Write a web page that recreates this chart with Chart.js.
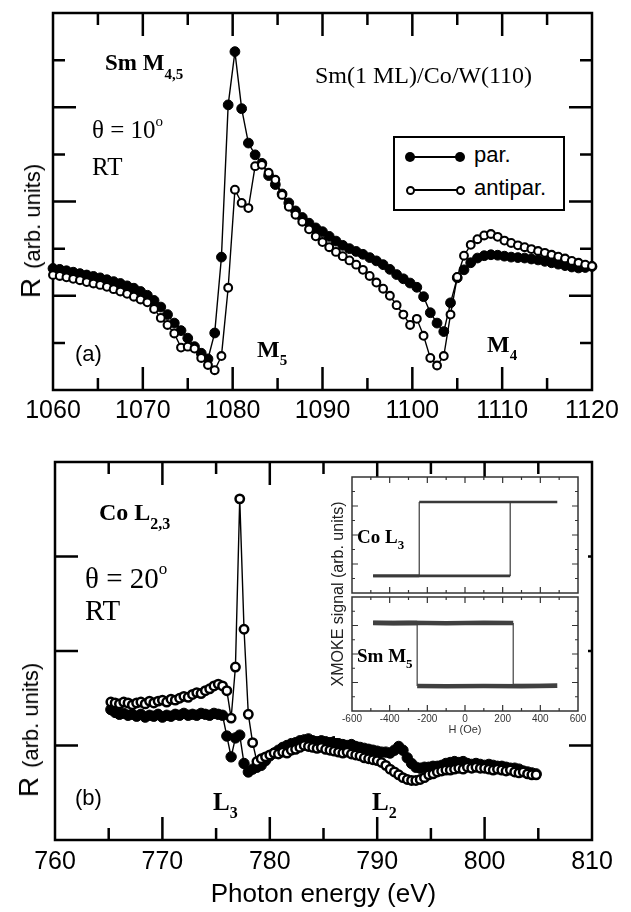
<!DOCTYPE html>
<html>
<head>
<meta charset="utf-8">
<script src="https://cdn.jsdelivr.net/npm/chart.js@4.4.0/dist/chart.umd.min.js"></script>
<style>
  body { margin: 0; background: #fff; }
  #page { position: relative; width: 631px; height: 912px; overflow: hidden; background: #fff; }
  canvas { position: absolute; }
  .t { position: absolute; white-space: nowrap; line-height: 1; color: #000; }
  .serif { font-family: 'Liberation Serif', 'Times New Roman', serif; }
  .sans { font-family: 'Liberation Sans', Arial, sans-serif; }
  .b { font-weight: bold; }
  .sub, .sup { position: relative; }
  .ylab { position: absolute; white-space: nowrap; line-height: 1; color: #000;
          transform: translate(-50%, -50%) rotate(-90deg);
          font-family: 'Liberation Sans', Arial, sans-serif; }
  .dot { position: absolute; border-radius: 50%; box-sizing: border-box; }
</style>
</head>
<body>
<div id="page">
  <canvas id="chartA" width="631" height="440" style="left:0;top:0"></canvas>
  <canvas id="chartB" width="631" height="472" style="left:0;top:440px"></canvas>
  <div style="position:absolute;left:335px;top:477px;width:253px;height:261px;background:#fff"></div>
  <canvas id="insetTop" width="250" height="130" style="left:340px;top:470px"></canvas>
  <canvas id="insetBottom" width="270" height="150" style="left:330px;top:590px"></canvas>

  <!-- панель (a) -->
  <div class="t serif b" style="left:105px;top:51px;font-size:23px">Sm M<span class="sub" style="font-size:15px;top:9px">4,5</span></div>
  <div class="t serif" style="left:315px;top:63px;font-size:24px">Sm(1 ML)/Co/W(110)</div>
  <div class="t serif" style="left:92px;top:117px;font-size:25px">θ = 10<span class="sup" style="font-size:15px;top:-12px">o</span></div>
  <div class="t serif" style="left:92px;top:154px;font-size:25px">RT</div>
  <div class="t sans" style="left:75px;top:343px;font-size:22px">(a)</div>
  <div class="t serif b" style="left:257px;top:337px;font-size:24px">M<span class="sub" style="font-size:15px;top:8px">5</span></div>
  <div class="t serif b" style="left:487px;top:332px;font-size:24px">M<span class="sub" style="font-size:15px;top:8px">4</span></div>
  <div class="ylab" style="left:31px;top:231px"><span style="font-size:28px">R</span>&nbsp;&nbsp;<span style="font-size:22px">(arb. units)</span></div>

  <!-- легенда -->
  <div style="position:absolute;left:393px;top:136px;width:172px;height:75px;border:2px solid #000;box-sizing:border-box;background:#fff"></div>
  <div style="position:absolute;left:410px;top:156px;width:50px;height:1.5px;background:#000"></div>
  <div class="dot" style="left:405px;top:152px;width:10px;height:10px;background:#000"></div>
  <div class="dot" style="left:455px;top:152px;width:10px;height:10px;background:#000"></div>
  <div class="t sans" style="left:474px;top:144px;font-size:22px">par.</div>
  <div style="position:absolute;left:410px;top:189px;width:50px;height:1.5px;background:#000"></div>
  <div class="dot" style="left:405.5px;top:185.5px;width:9px;height:9px;background:#fff;border:2px solid #000"></div>
  <div class="dot" style="left:455.5px;top:185.5px;width:9px;height:9px;background:#fff;border:2px solid #000"></div>
  <div class="t sans" style="left:474px;top:177px;font-size:22px">antipar.</div>

  <!-- панель (b) -->
  <div class="t serif b" style="left:99px;top:500px;font-size:24px">Co L<span class="sub" style="font-size:16px;top:9px">2,3</span></div>
  <div class="t serif" style="left:85px;top:564px;font-size:29px">θ = 20<span class="sup" style="font-size:17px;top:-14px">o</span></div>
  <div class="t serif" style="left:85px;top:596px;font-size:29px">RT</div>
  <div class="t sans" style="left:75px;top:787px;font-size:22px">(b)</div>
  <div class="t serif b" style="left:213px;top:789px;font-size:25px">L<span class="sub" style="font-size:16px;top:8px">3</span></div>
  <div class="t serif b" style="left:372px;top:789px;font-size:25px">L<span class="sub" style="font-size:16px;top:8px">2</span></div>
  <div class="ylab" style="left:29px;top:730px"><span style="font-size:28px">R</span>&nbsp;&nbsp;<span style="font-size:22px">(arb. units)</span></div>

  <!-- вставка -->
  <div class="t serif b" style="left:357px;top:527px;font-size:19px">Co L<span class="sub" style="font-size:13px;top:6px">3</span></div>
  <div class="t serif b" style="left:357px;top:646px;font-size:19px">Sm M<span class="sub" style="font-size:13px;top:6px">5</span></div>
  <div class="ylab" style="left:338px;top:594px;font-size:16px;color:#222">XMOKE signal (arb. units)</div>
</div>

<script>
// Панель (a): Sm M4,5, энергия фотонов (эВ)
const energyA = [
  1060, 1060.75, 1061.5, 1062.25, 1063, 1063.75, 1064.5, 1065.25, 1066, 1066.75,
  1067.5, 1068.25, 1069, 1069.75, 1070.5, 1071.25, 1072, 1072.75, 1073.5, 1074.25,
  1075, 1075.75, 1076.5, 1077.25, 1078, 1078.75, 1079.5, 1080.25, 1081, 1081.75,
  1082.5, 1083.25, 1084, 1084.75, 1085.5, 1086.25, 1087, 1087.75, 1088.5, 1089.25,
  1090, 1090.75, 1091.5, 1092.25, 1093, 1093.75, 1094.5, 1095.25, 1096, 1096.75,
  1097.5, 1098.25, 1099, 1099.75, 1100.5, 1101.25, 1102, 1102.75, 1103.5, 1104.25,
  1105, 1105.75, 1106.5, 1107.25, 1108, 1108.75, 1109.5, 1110.25, 1111, 1111.75,
  1112.5, 1113.25, 1114, 1114.75, 1115.5, 1116.25, 1117, 1117.75, 1118.5, 1119.25,
  1120
];
const parA = [
  2.58, 2.56, 2.53, 2.50, 2.47, 2.44, 2.41, 2.38, 2.34, 2.30,
  2.26, 2.21, 2.16, 2.09, 2.01, 1.90, 1.76, 1.60, 1.42, 1.26,
  1.10, 0.92, 0.78, 0.66, 1.21, 2.82, 6.05, 7.18, 5.97, 5.24,
  4.99, 4.81, 4.55, 4.36, 4.16, 3.97, 3.80, 3.66, 3.54, 3.44,
  3.36, 3.26, 3.16, 3.07, 3.00, 2.94, 2.88, 2.81, 2.74, 2.66,
  2.56, 2.45, 2.36, 2.27, 2.18, 1.98, 1.64, 1.42, 1.24, 1.85,
  2.38, 2.55, 2.70, 2.80, 2.85, 2.87, 2.86, 2.84, 2.82, 2.81,
  2.80, 2.78, 2.76, 2.73, 2.70, 2.67, 2.64, 2.61, 2.59, 2.60,
  2.62
];
const antiparA = [
  2.44, 2.42, 2.39, 2.36, 2.33, 2.29, 2.26, 2.23, 2.19, 2.14,
  2.09, 2.04, 1.98, 1.92, 1.86, 1.72, 1.53, 1.38, 1.20, 0.90,
  0.92, 0.88, 0.68, 0.53, 0.42, 0.72, 2.17, 4.25, 3.97, 3.86,
  4.75, 4.78, 4.61, 4.46, 4.14, 3.89, 3.72, 3.57, 3.41, 3.26,
  3.14, 3.03, 2.93, 2.84, 2.75, 2.66, 2.55, 2.42, 2.28, 2.15,
  2.00, 1.80, 1.60, 1.38, 1.51, 1.15, 0.68, 0.52, 0.72, 1.60,
  2.40, 2.85, 3.08, 3.20, 3.28, 3.31, 3.25, 3.17, 3.12, 3.07,
  3.03, 2.99, 2.95, 2.91, 2.87, 2.83, 2.79, 2.74, 2.70, 2.66,
  2.63
];

// Панель (b): Co L2,3
const energyB = [
  765.2, 765.6, 766.0, 766.4, 766.8, 767.2, 767.6, 768.0, 768.4, 768.8,
  769.2, 769.6, 770.0, 770.4, 770.8, 771.2, 771.6, 772.0, 772.4, 772.8,
  773.2, 773.6, 774.0, 774.4, 774.8, 775.2, 775.6, 776.0, 776.4, 776.8,
  777.2, 777.6, 778.0, 778.4, 778.8, 779.2, 779.6, 780.0, 780.4, 780.8,
  781.2, 781.6, 782.0, 782.4, 782.8, 783.2, 783.6, 784.0, 784.4, 784.8,
  785.2, 785.6, 786.0, 786.4, 786.8, 787.2, 787.6, 788.0, 788.4, 788.8,
  789.2, 789.6, 790.0, 790.4, 790.8, 791.2, 791.6, 792.0, 792.4, 792.8,
  793.2, 793.6, 794.0, 794.4, 794.8, 795.2, 795.6, 796.0, 796.4, 796.8,
  797.2, 797.6, 798.0, 798.4, 798.8, 799.2, 799.6, 800.0, 800.4, 800.8,
  801.2, 801.6, 802.0, 802.4, 802.8, 803.2, 803.6, 804.0, 804.4, 804.8
];
const parB = [
  1.38, 1.35, 1.33, 1.34, 1.32, 1.33, 1.31, 1.33, 1.30, 1.32,
  1.31, 1.33, 1.30, 1.32, 1.31, 1.33, 1.32, 1.34, 1.32, 1.33,
  1.32, 1.34, 1.33, 1.32, 1.34, 1.33, 1.32, 1.10, 0.88, 1.08,
  1.11, 0.81, 0.72, 0.75, 0.77, 0.79, 0.84, 0.89, 0.92, 0.95,
  0.98, 1.00, 1.02, 1.03, 1.05, 1.06, 1.07, 1.05, 1.04, 1.05,
  1.04, 1.03, 1.04, 1.02, 1.01, 1.00, 1.01, 0.99, 0.98, 0.97,
  0.96, 0.95, 0.94, 0.93, 0.93, 0.92, 0.95, 0.99, 0.95, 0.87,
  0.81, 0.77, 0.76, 0.77, 0.77, 0.78, 0.78, 0.79, 0.81, 0.82,
  0.83, 0.82, 0.83, 0.81, 0.80, 0.81, 0.80, 0.79, 0.80, 0.79,
  0.78, 0.78, 0.77, 0.76, 0.76, 0.75, 0.73, 0.72, 0.71, 0.70
];
const antiparB = [
  1.46, 1.45, 1.44, 1.46, 1.45, 1.43, 1.45, 1.46, 1.44, 1.47,
  1.45, 1.47, 1.48, 1.46, 1.49, 1.48, 1.50, 1.52, 1.51, 1.54,
  1.56, 1.55, 1.58, 1.60, 1.63, 1.65, 1.63, 1.58, 1.29, 1.83,
  3.61, 2.23, 1.33, 1.03, 0.83, 0.86, 0.88, 0.90, 0.92, 0.91,
  0.93, 0.92, 0.95, 0.96, 0.98, 1.00, 0.99, 0.98, 0.97, 0.98,
  0.96, 0.95, 0.94, 0.93, 0.92, 0.93, 0.91, 0.90, 0.89, 0.87,
  0.86, 0.85, 0.84, 0.82, 0.79, 0.75, 0.72, 0.69, 0.66, 0.64,
  0.63, 0.63, 0.64, 0.66, 0.69, 0.70, 0.72, 0.73, 0.74, 0.74,
  0.75, 0.76, 0.75, 0.77, 0.76, 0.77, 0.76, 0.76, 0.75, 0.74,
  0.75, 0.74, 0.73, 0.74, 0.72, 0.71, 0.72, 0.70, 0.69, 0.69
];

// Вставка: петли гистерезиса (поле H, Э)
const coField  = [-488, -243, -243, 490, 240, 240, -488];
const coSignal = [0.59, 0.59, 3.14, 3.14, 3.14, 0.59, 0.59];
const smField  = [-488, -380, -254, -254, -100, 100, 300, 490,
                  256, 256, 100, -100, -300, -488];
const smSignal = [3.10, 3.08, 3.09, 0.88, 0.87, 0.88, 0.87, 0.89,
                  0.88, 3.09, 3.10, 3.08, 3.10, 3.09];

const SANS = "'Liberation Sans', Arial, sans-serif";
const toPoints = (xs, ys) => xs.map((x, i) => ({ x: x, y: ys[i] }));

// Список засечек: [значение, длина]
function tickList(from, to, step, isMajor, majorLen, minorLen) {
  const list = [];
  for (let v = from; v <= to + 1e-9; v += step) {
    list.push([v, isMajor(v) ? majorLen : minorLen]);
  }
  return list;
}

// Рамка и засечки внутрь
const frameTicks = {
  id: 'frameTicks',
  beforeDatasetsDraw(chart, args, opts) {
    const { ctx, chartArea: a, scales } = chart;
    ctx.save();
    ctx.strokeStyle = opts.color;
    ctx.lineWidth = opts.tickWidth;
    ctx.beginPath();
    opts.xTicks.forEach(([v, len]) => {
      const px = scales.x.getPixelForValue(v);
      ctx.moveTo(px, a.bottom); ctx.lineTo(px, a.bottom - len);
      ctx.moveTo(px, a.top); ctx.lineTo(px, a.top + len);
    });
    opts.yTicks.forEach(([v, len]) => {
      const py = scales.y.getPixelForValue(v);
      ctx.moveTo(a.left, py); ctx.lineTo(a.left + len, py);
      ctx.moveTo(a.right, py); ctx.lineTo(a.right - len, py);
    });
    ctx.stroke();
    ctx.lineWidth = opts.frameWidth;
    ctx.strokeRect(a.left, a.top, a.right - a.left, a.bottom - a.top);
    ctx.restore();
  }
};

function spectrumSets(xs, par, antipar, r, bw) {
  return [
    {
      label: 'antipar.', data: toPoints(xs, antipar), order: 0, clip: false,
      borderColor: '#000', borderWidth: 1.4, tension: 0,
      pointRadius: r, pointBorderWidth: bw, pointBackgroundColor: '#fff', pointBorderColor: '#000'
    },
    {
      label: 'par.', data: toPoints(xs, par), order: 1, clip: false,
      borderColor: '#000', borderWidth: 1.4, tension: 0,
      pointRadius: r + 1, pointBorderWidth: 1, pointBackgroundColor: '#000', pointBorderColor: '#000'
    }
  ];
}

const common = {
  responsive: false,
  animation: false,
  events: [],
  plugins: { legend: { display: false }, tooltip: { enabled: false } }
};

// Панель (a)
new Chart(document.getElementById('chartA'), {
  type: 'line',
  data: { datasets: spectrumSets(energyA, parA, antiparA, 3.9, 2.1) },
  options: {
    ...common,
    layout: { padding: { left: 53, right: 39, top: 13, bottom: 0 } },
    scales: {
      x: {
        type: 'linear', min: 1060, max: 1120,
        afterFit: s => { s.height = 50; },
        grid: { display: false, drawTicks: false },
        border: { display: false },
        ticks: { stepSize: 10, padding: 6, color: '#000', maxRotation: 0, autoSkip: false,
                 font: { family: SANS, size: 25 }, callback: v => String(v) }
      },
      y: { type: 'linear', display: false, min: 0, max: 8 }
    },
    plugins: {
      ...common.plugins,
      frameTicks: {
        color: '#000', frameWidth: 2.5, tickWidth: 2.5,
        xTicks: tickList(1065, 1115, 5, v => v % 10 === 0, 23, 12),
        yTicks: tickList(1, 7, 1, v => v % 2 === 0, 23, 12)
      }
    }
  },
  plugins: [frameTicks]
});

// Панель (b)
new Chart(document.getElementById('chartB'), {
  type: 'line',
  data: { datasets: spectrumSets(energyB, parB, antiparB, 4.2, 2.5) },
  options: {
    ...common,
    layout: { padding: { left: 55, right: 39, top: 22, bottom: 0 } },
    scales: {
      x: {
        type: 'linear', min: 760, max: 810,
        afterFit: s => { s.height = 72; },
        grid: { display: false, drawTicks: false },
        border: { display: false },
        ticks: { stepSize: 10, padding: 7, color: '#000', maxRotation: 0, autoSkip: false,
                 font: { family: SANS, size: 25 }, callback: v => String(v) },
        title: { display: true, text: 'Photon energy (eV)', color: '#000',
                 font: { family: SANS, size: 26 }, padding: { top: 0, bottom: 2 } }
      },
      y: { type: 'linear', display: false, min: 0, max: 4 }
    },
    plugins: {
      ...common.plugins,
      frameTicks: {
        color: '#000', frameWidth: 2.5, tickWidth: 2.5,
        xTicks: tickList(765, 805, 5, v => v % 10 === 0, 23, 12),
        yTicks: tickList(1, 3, 1, v => true, 23, 23)
      }
    }
  },
  plugins: [frameTicks]
});

const insetTicks = {
  color: '#333', frameWidth: 1.5, tickWidth: 1.2,
  xTicks: tickList(-500, 500, 100, v => v % 200 === 0, 6, 3),
  yTicks: tickList(0.5, 3.5, 0.5, v => Number.isInteger(v), 6, 3)
};

// Вертикальные переходы петли тоньше горизонтальных участков
const loopSegment = w => ({
  borderWidth: c => (c.p0.parsed.x === c.p1.parsed.x ? 1.2 : w)
});

// Вставка: Co L3
new Chart(document.getElementById('insetTop'), {
  type: 'line',
  data: {
    datasets: [{
      data: toPoints(coField, coSignal), borderColor: '#3a3a3a', borderWidth: 2.6,
      pointRadius: 0, tension: 0, segment: loopSegment(2.6)
    }]
  },
  options: {
    ...common,
    layout: { padding: { left: 12, right: 12, top: 7, bottom: 7 } },
    scales: {
      x: { type: 'linear', display: false, min: -600, max: 600 },
      y: { type: 'linear', display: false, min: 0, max: 4 }
    },
    plugins: { ...common.plugins, frameTicks: insetTicks }
  },
  plugins: [frameTicks]
});

// Вставка: Sm M5
new Chart(document.getElementById('insetBottom'), {
  type: 'line',
  data: {
    datasets: [{
      data: toPoints(smField, smSignal), borderColor: '#404040', borderWidth: 4.5,
      pointRadius: 0, tension: 0, segment: loopSegment(4.5)
    }]
  },
  options: {
    ...common,
    layout: { padding: { left: 22, right: 22, top: 7, bottom: 0 } },
    scales: {
      x: {
        type: 'linear', min: -600, max: 600,
        afterFit: s => { s.height = 29; },
        grid: { display: false, drawTicks: false },
        border: { display: false },
        ticks: { stepSize: 200, padding: 2, color: '#333', maxRotation: 0, autoSkip: false,
                 font: { family: SANS, size: 10 }, callback: v => String(v) },
        title: { display: true, text: 'H (Oe)', color: '#333',
                 font: { family: SANS, size: 11 }, padding: { top: 0, bottom: 3 } }
      },
      y: { type: 'linear', display: false, min: 0, max: 4 }
    },
    plugins: { ...common.plugins, frameTicks: insetTicks }
  },
  plugins: [frameTicks]
});
</script>
</body>
</html>
